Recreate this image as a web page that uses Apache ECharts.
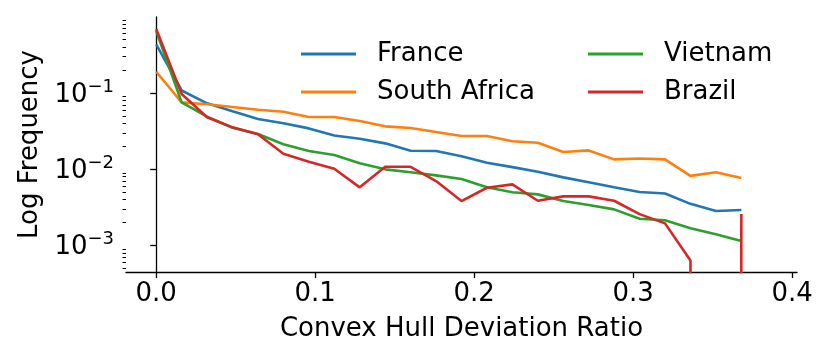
<!DOCTYPE html>
<html>
<head>
<meta charset="utf-8">
<script src="https://cdn.jsdelivr.net/npm/echarts@6/dist/echarts.min.js"></script>
<style>
  html, body { margin: 0; padding: 0; background: #fff; }
  #main { width: 830px; height: 356px; }
</style>
</head>
<body>
<div id="main"></div>
<script>
// x positions (convex hull deviation ratio bins)
var ratio = [0, 0.016, 0.032, 0.048, 0.064, 0.08, 0.096, 0.112, 0.128, 0.144, 0.16, 0.176,
             0.192, 0.208, 0.224, 0.24, 0.256, 0.272, 0.288, 0.304, 0.32, 0.336, 0.352, 0.368];

// frequencies
var france = [0.434, 0.108, 0.0733, 0.0576, 0.0456, 0.0401, 0.0344, 0.0277, 0.0252, 0.0219, 0.0175, 0.0174,
              0.0148, 0.0122, 0.0107, 0.0093, 0.00785, 0.00676, 0.00581, 0.00505, 0.00482, 0.00353, 0.00284, 0.00293];
var southAfrica = [0.190, 0.0755, 0.0711, 0.0656, 0.0604, 0.0569, 0.0485, 0.0485, 0.0430, 0.0366, 0.0348, 0.0308,
                   0.0273, 0.0273, 0.0233, 0.0223, 0.0169, 0.0177, 0.0135, 0.0139, 0.0135, 0.00822, 0.00914, 0.00769];
var vietnam = [0.65, 0.0755, 0.0489, 0.0351, 0.0290, 0.0213, 0.0174, 0.0154, 0.0120, 0.0100, 0.00914, 0.00834,
               0.00746, 0.00581, 0.00500, 0.00470, 0.00384, 0.00341, 0.00299, 0.00225, 0.00215, 0.00169, 0.00141, 0.00115];
var brazil = [0.69, 0.097, 0.0481, 0.0355, 0.0288, 0.0160, 0.0126, 0.0102, 0.00581, 0.0108, 0.0108, 0.00703,
              0.00384, 0.00574, 0.00635, 0.00388, 0.00442, 0.00442, 0.00388, 0.00259, 0.00196, 0.00064, 0, 0.00259];

var xTicks = [0, 0.1, 0.2, 0.3, 0.4];
var yTicks = [-3, -2, -1]; // decades, 10^-3 .. 10^-1

var font = 'DejaVu Sans';

// log10, zero gets pushed far below the axis (like matplotlib clipping)
function lg(v) {
    return v > 0 ? Math.log10(v) : -300;
}

var yMin = -3.345, yMax = -0.004;
var minorTicks = [];
for (var n = -4; n <= 0; n++) {
    for (var k = 2; k <= 9; k++) {
        var t = n + Math.log10(k);
        if (t > yMin && t < yMax) minorTicks.push(t);
    }
}

function makeSeries(name, values, color) {
    return {
        name: name,
        type: 'line',
        symbol: 'none',
        clip: true,
        data: ratio.map(function (x, i) { return [x, lg(values[i])]; }),
        lineStyle: { width: 2.6, color: color },
        itemStyle: { color: color }
    };
}

var legendText = { fontSize: 26, lineHeight: 26, color: '#000', fontFamily: font, padding: [0, 0, 0, 16] };

function makeLegend(names, left) {
    return {
        data: names,
        orient: 'vertical',
        left: left, top: 41,
        padding: 0,
        icon: 'rect',
        itemWidth: 55, itemHeight: 3, itemGap: 12,
        textStyle: legendText
    };
}

var myChart = echarts.init(document.getElementById('main'));
myChart.setOption({
    animation: false,
    backgroundColor: '#fff',
    grid: { left: 126, right: 33, top: 17, bottom: 84 },
    legend: [
        makeLegend(['France', 'South Africa'], 301),
        makeLegend(['Vietnam', 'Brazil'], 588)
    ],
    xAxis: {
        type: 'value',
        min: -0.019,
        max: 0.403,
        name: 'Convex Hull Deviation Ratio',
        nameLocation: 'middle',
        nameGap: 44,
        nameTextStyle: { fontSize: 26, color: '#000', fontFamily: font },
        axisLine: { lineStyle: { color: '#000', width: 1.3 } },
        axisTick: { customValues: xTicks, length: 6, lineStyle: { color: '#000', width: 1.3 } },
        axisLabel: {
            customValues: xTicks,
            formatter: function (v) { return v.toFixed(1); },
            fontSize: 26, color: '#000', fontFamily: font, margin: 9
        },
        splitLine: { show: false }
    },
    yAxis: [{
        type: 'value',
        min: yMin,
        max: yMax,
        name: 'Log Frequency',
        nameLocation: 'middle',
        nameGap: 78,
        nameTextStyle: { fontSize: 26, color: '#000', fontFamily: font },
        axisLine: { show: true, lineStyle: { color: '#000', width: 1.3 } },
        axisTick: { customValues: yTicks, length: 6, lineStyle: { color: '#000', width: 1.3 } },
        axisLabel: {
            customValues: yTicks,
            margin: 12,
            formatter: function (v) { return '{b|10}{s|\u2212' + (-v) + '}'; },
            rich: {
                b: { fontSize: 26, lineHeight: 30, color: '#000', fontFamily: font, verticalAlign: 'bottom' },
                s: { fontSize: 18, lineHeight: 23, color: '#000', fontFamily: font, verticalAlign: 'top' }
            }
        },
        splitLine: { show: false }
    }, {
        // minor log ticks only
        type: 'value',
        position: 'left',
        min: yMin,
        max: yMax,
        axisLine: { show: false },
        axisTick: { customValues: minorTicks, length: 3.5, lineStyle: { color: '#000', width: 1 } },
        axisLabel: { show: false },
        splitLine: { show: false }
    }],
    series: [
        makeSeries('France', france, '#1f77b4'),
        makeSeries('South Africa', southAfrica, '#ff7f0e'),
        makeSeries('Vietnam', vietnam, '#2ca02c'),
        makeSeries('Brazil', brazil, '#d62728')
    ]
});
</script>
</body>
</html>
